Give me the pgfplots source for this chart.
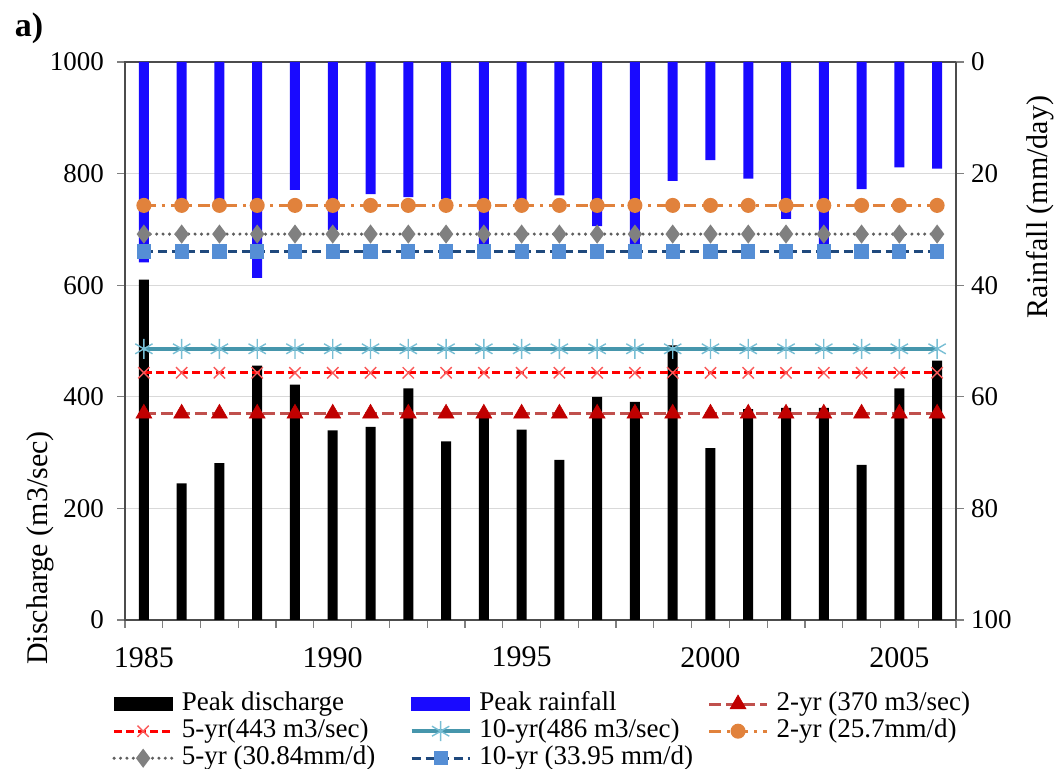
\documentclass[border=0pt]{standalone}
\usepackage{fontspec}
\setmainfont{Liberation Serif}
\usepackage{pgfplots}
\usepackage{pgfplotstable}
\pgfplotsset{compat=1.18}

\definecolor{barblue}{RGB}{25,10,255}
\definecolor{t370line}{RGB}{192,80,77}
\definecolor{t370mark}{RGB}{192,0,0}
\definecolor{t443mark}{RGB}{250,90,90}
\definecolor{t486line}{RGB}{70,150,172}
\definecolor{t486mark}{RGB}{120,190,212}
\definecolor{torange}{RGB}{225,130,60}
\definecolor{tgrayline}{RGB}{95,95,95}
\definecolor{tgraymark}{RGB}{128,128,128}
\definecolor{tblueline}{RGB}{31,73,125}
\definecolor{tbluemark}{RGB}{85,142,213}

\pgfplotstableread{
year q   r    a370 a443 a486 b257 b3084 b3395
1985 610 35.9 370 443 486 25.7 30.84 33.95
1986 245 25.3 370 443 486 25.7 30.84 33.95
1987 281 25.3 370 443 486 25.7 30.84 33.95
1988 456 38.7 370 443 486 25.7 30.84 33.95
1989 422 22.9 370 443 486 25.7 30.84 33.95
1990 340 30.1 370 443 486 25.7 30.84 33.95
1991 346 23.7 370 443 486 25.7 30.84 33.95
1992 415 24.2 370 443 486 25.7 30.84 33.95
1993 320 24.6 370 443 486 25.7 30.84 33.95
1994 365 33.7 370 443 486 25.7 30.84 33.95
1995 341 25.3 370 443 486 25.7 30.84 33.95
1996 287 23.9 370 443 486 25.7 30.84 33.95
1997 400 29.4 370 443 486 25.7 30.84 33.95
1998 391 33.1 370 443 486 25.7 30.84 33.95
1999 492 21.3 370 443 486 25.7 30.84 33.95
2000 308 17.6 370 443 486 25.7 30.84 33.95
2001 378 20.9 370 443 486 25.7 30.84 33.95
2002 380 28.1 370 443 486 25.7 30.84 33.95
2003 380 33.1 370 443 486 25.7 30.84 33.95
2004 278 22.8 370 443 486 25.7 30.84 33.95
2005 415 18.9 370 443 486 25.7 30.84 33.95
2006 465 19.1 370 443 486 25.7 30.84 33.95
}\datatable

\pgfplotsset{
  linelegend/.style={legend image code/.code={%
    \draw[mark repeat=2,mark phase=2,##1] plot coordinates {(0pt,0pt) (14.5pt,0pt) (29pt,0pt)};}},
  s370/.style={color=t370line, line width=1.6pt, dash pattern=on 6pt off 2.5pt,
    mark=triangle*, mark size=4.6pt, mark options={solid, fill=t370mark, draw=t370mark, line width=0.3pt}},
  s443/.style={color=red, line width=1.5pt, dash pattern=on 4pt off 2pt,
    mark=x, mark size=4pt, mark options={solid, draw=t443mark, line width=0.7pt}},
  s486/.style={color=t486line, line width=1.8pt, solid,
    mark=asterisk, mark size=5pt, mark options={solid, draw=t486mark, line width=0.7pt}},
  s257/.style={color=torange, line width=1.5pt, dash pattern=on 6pt off 3pt on 1.5pt off 3pt,
    mark=*, mark size=3pt, mark options={solid, fill=torange, draw=torange}},
  s3084/.style={color=tgrayline, line width=1.7pt, line cap=round, dash pattern=on 0pt off 3.2pt,
    mark=diamond*, mark size=3.4pt, mark options={solid, fill=tgraymark, draw=tgraymark}},
  s3395/.style={color=tblueline, line width=1.5pt, dash pattern=on 4.5pt off 2.5pt,
    mark=square*, mark size=2.8pt, mark options={solid, fill=tbluemark, draw=tbluemark}},
}

\newcommand{\lt}[1]{\makebox[110pt][l]{#1}}

\begin{document}
\begin{tikzpicture}
\begin{axis}[
  at={(0,0)}, anchor=south west,
  scale only axis, width=415.5pt, height=279pt,
  xmin=1984.5, xmax=2006.5, ymin=0, ymax=1000,
  xtick={1985,1990,1995,2000,2005},
  xticklabels={1985,1990,1995,2000,2005},
  minor xtick={1984.5,1985.5,...,2006.5},
  ytick={0,200,...,1000},
  yticklabels={0,200,400,600,800,1000},
  xtick pos=bottom, ytick pos=left,
  tick align=outside,
  major tick length=4pt, minor tick length=4pt,
  major x tick style={draw=none},
  minor x tick style={black!50, line width=0.6pt},
  major y tick style={black!50, line width=0.6pt},
  ymajorgrids,
  grid style={color=black!15, line width=0.6pt},
  axis line style={black!70, line width=0.8pt},
  /pgf/number format/assume math mode=true,
  /pgf/number format/1000 sep={},
  yticklabel style={font=\fontsize{13.5}{15}\selectfont, xshift=-3pt},
  xticklabel style={font=\fontsize{15}{17}\selectfont, yshift=-6pt},
  ylabel={Discharge (m3/sec)},
  every axis y label/.style={at={(rel axis cs:-0.102,0.129)}, rotate=90, anchor=center,
    font=\fontsize{15}{17}\selectfont},
]
\addplot[ybar, bar width=5pt, bar shift=0pt, fill=black, draw=none, forget plot]
  table[x=year, y=q] {\datatable};
\addplot[s370, forget plot] table[x=year, y=a370] {\datatable};
\addplot[s443, forget plot] table[x=year, y=a443] {\datatable};
\addplot[s486, forget plot] table[x=year, y=a486] {\datatable};
\end{axis}

\begin{axis}[
  at={(0,0)}, anchor=south west,
  scale only axis, width=415.5pt, height=279pt,
  xmin=1984.5, xmax=2006.5, ymin=0, ymax=100,
  y dir=reverse,
  axis x line=none, axis y line*=right,
  ytick={0,20,...,100},
  yticklabels={0,20,40,60,80,100},
  tick align=outside,
  major tick length=4pt,
  major y tick style={black!50, line width=0.6pt},
  axis line style={black!70, line width=0.8pt},
  /pgf/number format/assume math mode=true,
  yticklabel style={font=\fontsize{13.5}{15}\selectfont},
  ylabel={Rainfall (mm/day)},
  every axis y label/.style={at={(rel axis cs:1.101,0.740)}, rotate=90, anchor=center,
    font=\fontsize{15}{17}\selectfont},
  legend columns=3,
  legend cell align=left,
  legend style={draw=none, fill=none, at={(-0.0156,-0.126)}, anchor=north west,
    font=\fontsize{13.5}{15}\selectfont, inner sep=0pt, column sep=0pt, row sep=0pt,
    nodes={inner xsep=4pt, inner ysep=0.5pt, text height=9.5pt, text depth=3pt}},
]
\addplot[ybar, bar width=5pt, bar shift=0pt, fill=barblue, draw=none, forget plot]
  table[x=year, y=r] {\datatable};
\addplot[s257, forget plot] table[x=year, y=b257] {\datatable};
\addplot[s3084, forget plot] table[x=year, y=b3084] {\datatable};
\addplot[s3395, forget plot] table[x=year, y=b3395] {\datatable};

\addlegendimage{legend image code/.code={\fill[black] (0pt,-3pt) rectangle (29pt,3.5pt);}}
\addlegendentry{\lt{Peak discharge}}
\addlegendimage{legend image code/.code={\fill[barblue] (0pt,-3pt) rectangle (29pt,3.5pt);}}
\addlegendentry{\lt{Peak rainfall}}
\addlegendimage{linelegend, s370}
\addlegendentry{\lt{2-yr (370 m3/sec)}}
\addlegendimage{linelegend, s443}
\addlegendentry{\lt{5-yr(443 m3/sec)}}
\addlegendimage{linelegend, s486}
\addlegendentry{\lt{10-yr(486 m3/sec)}}
\addlegendimage{linelegend, s257}
\addlegendentry{\lt{2-yr (25.7mm/d)}}
\addlegendimage{linelegend, s3084}
\addlegendentry{\lt{5-yr (30.84mm/d)}}
\addlegendimage{linelegend, s3395}
\addlegendentry{\lt{10-yr (33.95 mm/d)}}
\end{axis}

\node[font=\fontsize{17}{19}\selectfont\bfseries] at (-48pt,296pt) {a)};

\pgfresetboundingbox
\useasboundingbox (-62.5pt,-74.5pt) rectangle (466pt,310pt);
\end{tikzpicture}
\end{document}
